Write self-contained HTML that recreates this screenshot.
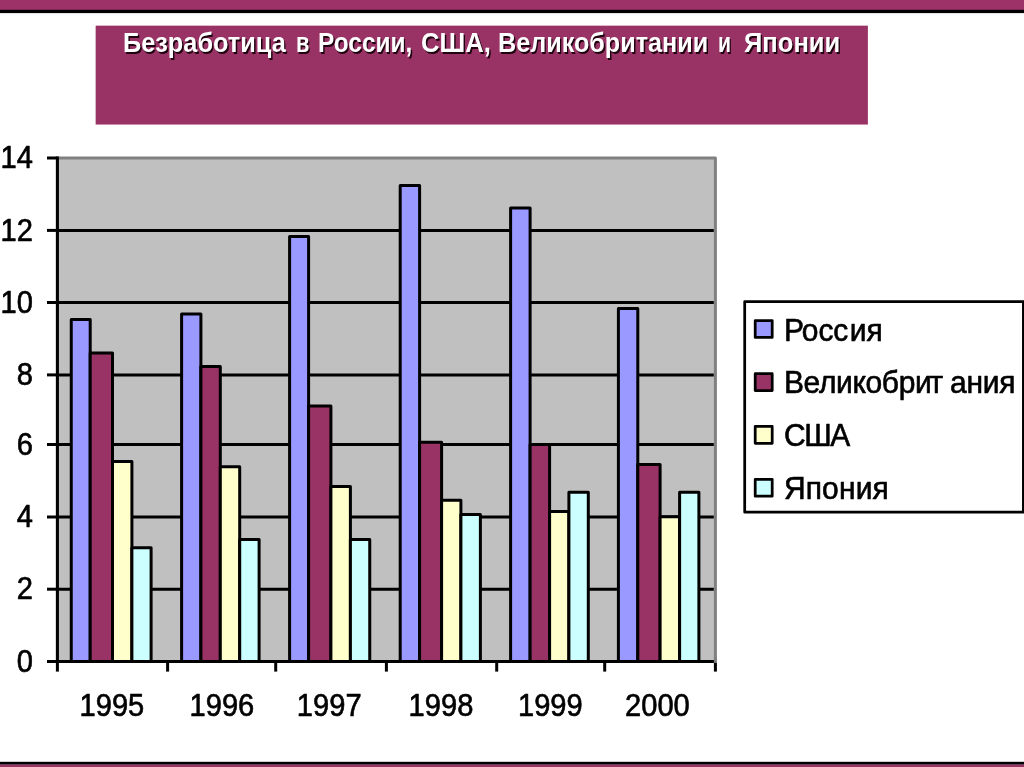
<!DOCTYPE html>
<html lang="ru">
<head>
<meta charset="utf-8">
<title>Безработица в России, США, Великобритании и Японии</title>
<style>
html,body{margin:0;padding:0;background:#fff;}
body{width:1024px;height:767px;position:relative;overflow:hidden;font-family:"Liberation Sans",sans-serif;}
.title{position:absolute;left:95.6px;top:25.6px;width:772.3px;height:98.9px;color:#fff;
 font-weight:bold;font-size:26.5px;margin:0;white-space:nowrap;line-height:normal;
 text-shadow:1.5px 1.5px 0.3px rgba(25,0,12,0.95);}
.title span{position:absolute;top:1.9px;transform-origin:0 0;display:block;}
svg{position:absolute;left:0;top:0;}
.ax{font-family:"Liberation Sans",sans-serif;font-size:29.1px;fill:#000;stroke:#000;stroke-width:0.6px;}
.lg{font-family:"Liberation Sans",sans-serif;font-size:30px;fill:#000;stroke:#000;stroke-width:0.6px;}
</style>
</head>
<body>
<svg stroke-linejoin="round" stroke-linecap="butt" width="1024" height="767" viewBox="0 0 1024 767">
<rect x="0" y="0" width="1024" height="10.2" fill="#9c3268"/>
<rect x="0" y="9.8" width="1024" height="3.3" fill="#000"/>
<rect x="0" y="761.8" width="1024" height="2.9" fill="#000"/>
<rect x="0" y="764.6" width="1024" height="3" fill="#993366"/>
<rect x="95.65" y="25.65" width="772.25" height="98.9" fill="#993366"/>
<rect x="57.4" y="158.0" width="658.0" height="503.4" fill="#c0c0c0" stroke="#808080" stroke-width="3"/>
<line x1="57.4" y1="230.4" x2="713.8" y2="230.4" stroke="#000" stroke-width="3.0"/>
<line x1="57.4" y1="302.5" x2="713.8" y2="302.5" stroke="#000" stroke-width="3.0"/>
<line x1="57.4" y1="374.9" x2="713.8" y2="374.9" stroke="#000" stroke-width="3.0"/>
<line x1="57.4" y1="444.5" x2="713.8" y2="444.5" stroke="#000" stroke-width="3.0"/>
<line x1="57.4" y1="517.0" x2="713.8" y2="517.0" stroke="#000" stroke-width="3.0"/>
<line x1="57.4" y1="589.2" x2="713.8" y2="589.2" stroke="#000" stroke-width="3.0"/>
<rect x="71.25" y="319.5" width="18.95" height="341.90" fill="#9999ff" stroke="#000" stroke-width="3.0"/>
<rect x="90.2" y="353.0" width="22.30" height="308.40" fill="#993366" stroke="#000" stroke-width="3.0"/>
<rect x="112.5" y="461.4" width="19.40" height="200.00" fill="#ffffcc" stroke="#000" stroke-width="3.0"/>
<rect x="131.9" y="547.7" width="19.20" height="113.70" fill="#ccffff" stroke="#000" stroke-width="3.0"/>
<rect x="181.6" y="314.0" width="19.30" height="347.40" fill="#9999ff" stroke="#000" stroke-width="3.0"/>
<rect x="200.9" y="366.5" width="19.40" height="294.90" fill="#993366" stroke="#000" stroke-width="3.0"/>
<rect x="220.3" y="466.7" width="19.40" height="194.70" fill="#ffffcc" stroke="#000" stroke-width="3.0"/>
<rect x="239.7" y="539.4" width="19.40" height="122.00" fill="#ccffff" stroke="#000" stroke-width="3.0"/>
<rect x="289.6" y="236.4" width="19.00" height="425.00" fill="#9999ff" stroke="#000" stroke-width="3.0"/>
<rect x="308.6" y="405.9" width="22.30" height="255.50" fill="#993366" stroke="#000" stroke-width="3.0"/>
<rect x="330.9" y="486.4" width="19.50" height="175.00" fill="#ffffcc" stroke="#000" stroke-width="3.0"/>
<rect x="350.4" y="539.4" width="19.35" height="122.00" fill="#ccffff" stroke="#000" stroke-width="3.0"/>
<rect x="400.2" y="185.6" width="19.40" height="475.80" fill="#9999ff" stroke="#000" stroke-width="3.0"/>
<rect x="419.6" y="442.2" width="22.00" height="219.20" fill="#993366" stroke="#000" stroke-width="3.0"/>
<rect x="441.6" y="500.3" width="19.30" height="161.10" fill="#ffffcc" stroke="#000" stroke-width="3.0"/>
<rect x="460.9" y="514.4" width="19.50" height="147.00" fill="#ccffff" stroke="#000" stroke-width="3.0"/>
<rect x="510.6" y="208.1" width="19.50" height="453.30" fill="#9999ff" stroke="#000" stroke-width="3.0"/>
<rect x="530.1" y="444.4" width="19.50" height="217.00" fill="#993366" stroke="#000" stroke-width="3.0"/>
<rect x="549.6" y="511.6" width="19.30" height="149.80" fill="#ffffcc" stroke="#000" stroke-width="3.0"/>
<rect x="568.9" y="492.2" width="19.40" height="169.20" fill="#ccffff" stroke="#000" stroke-width="3.0"/>
<rect x="618.4" y="308.4" width="19.40" height="353.00" fill="#9999ff" stroke="#000" stroke-width="3.0"/>
<rect x="637.8" y="464.4" width="22.30" height="197.00" fill="#993366" stroke="#000" stroke-width="3.0"/>
<rect x="660.1" y="516.8" width="19.50" height="144.60" fill="#ffffcc" stroke="#000" stroke-width="3.0"/>
<rect x="679.6" y="492.2" width="19.30" height="169.20" fill="#ccffff" stroke="#000" stroke-width="3.0"/>
<line x1="57.4" y1="156.5" x2="57.4" y2="662.8" stroke="#000" stroke-width="3.0"/>
<line x1="47" y1="661.4" x2="714.0" y2="661.4" stroke="#000" stroke-width="3.0"/>
<line x1="715.4" y1="657.4" x2="715.4" y2="662.9" stroke="#808080" stroke-width="3"/>
<line x1="47" y1="158.0" x2="57.4" y2="158.0" stroke="#000" stroke-width="3.0"/>
<line x1="47" y1="230.4" x2="57.4" y2="230.4" stroke="#000" stroke-width="3.0"/>
<line x1="47" y1="302.5" x2="57.4" y2="302.5" stroke="#000" stroke-width="3.0"/>
<line x1="47" y1="374.9" x2="57.4" y2="374.9" stroke="#000" stroke-width="3.0"/>
<line x1="47" y1="444.5" x2="57.4" y2="444.5" stroke="#000" stroke-width="3.0"/>
<line x1="47" y1="517.0" x2="57.4" y2="517.0" stroke="#000" stroke-width="3.0"/>
<line x1="47" y1="589.2" x2="57.4" y2="589.2" stroke="#000" stroke-width="3.0"/>
<line x1="57.4" y1="661.4" x2="57.4" y2="671.6" stroke="#000" stroke-width="3.0"/>
<line x1="167.6" y1="661.4" x2="167.6" y2="671.6" stroke="#000" stroke-width="3.0"/>
<line x1="275.7" y1="661.4" x2="275.7" y2="671.6" stroke="#000" stroke-width="3.0"/>
<line x1="386.4" y1="661.4" x2="386.4" y2="671.6" stroke="#000" stroke-width="3.0"/>
<line x1="496.7" y1="661.4" x2="496.7" y2="671.6" stroke="#000" stroke-width="3.0"/>
<line x1="604.7" y1="661.4" x2="604.7" y2="671.6" stroke="#000" stroke-width="3.0"/>
<line x1="715.4" y1="662.9" x2="715.4" y2="671.6" stroke="#000" stroke-width="3.0"/>
<text class="ax" transform="translate(32.9,168.2) scale(1,1.06)" text-anchor="end">14</text>
<text class="ax" transform="translate(32.9,240.6) scale(1,1.06)" text-anchor="end">12</text>
<text class="ax" transform="translate(32.9,312.7) scale(1,1.06)" text-anchor="end">10</text>
<text class="ax" transform="translate(32.9,385.1) scale(1,1.06)" text-anchor="end">8</text>
<text class="ax" transform="translate(32.9,454.7) scale(1,1.06)" text-anchor="end">6</text>
<text class="ax" transform="translate(32.9,527.2) scale(1,1.06)" text-anchor="end">4</text>
<text class="ax" transform="translate(32.9,599.4) scale(1,1.06)" text-anchor="end">2</text>
<text class="ax" transform="translate(32.9,671.6) scale(1,1.06)" text-anchor="end">0</text>
<text class="ax" transform="translate(111.90,715.9) scale(1,1.06)" text-anchor="middle">1995</text>
<text class="ax" transform="translate(221.90,715.9) scale(1,1.06)" text-anchor="middle">1996</text>
<text class="ax" transform="translate(329.20,715.9) scale(1,1.06)" text-anchor="middle">1997</text>
<text class="ax" transform="translate(440.95,715.9) scale(1,1.06)" text-anchor="middle">1998</text>
<text class="ax" transform="translate(550.35,715.9) scale(1,1.06)" text-anchor="middle">1999</text>
<text class="ax" transform="translate(657.40,715.9) scale(1,1.06)" text-anchor="middle">2000</text>
<rect x="744.7" y="301.5" width="278.7" height="210.7" fill="#fff" stroke="#000" stroke-width="2.75"/>
<rect x="755.2" y="320.5" width="17" height="16.9" fill="#9999ff" stroke="#000" stroke-width="2.75"/>
<text class="lg" transform="translate(783.9,340.7) scale(1,1.035)" style="letter-spacing:0.05px">Р<tspan dx="-2.1" style="letter-spacing:-0.1px">осс</tspan><tspan dx="1.6">ия</tspan></text>
<rect x="755.2" y="373.7" width="17" height="16.9" fill="#993366" stroke="#000" stroke-width="2.75"/>
<text class="lg" transform="translate(783.9,392.9) scale(1,1.035)" style="letter-spacing:0.17px"><tspan style="letter-spacing:-0.35px">Великобри</tspan><tspan dx="-1.8">т</tspan><tspan dx="6.6" style="letter-spacing:-0.3px">ания</tspan></text>
<rect x="755.2" y="426.4" width="17" height="16.9" fill="#ffffcc" stroke="#000" stroke-width="2.75"/>
<text class="lg" transform="translate(783.9,446.0) scale(1,1.035)" style="letter-spacing:-1.4px">США</text>
<rect x="755.2" y="479.3" width="17" height="16.9" fill="#ccffff" stroke="#000" stroke-width="2.75"/>
<text class="lg" transform="translate(783.9,499.2) scale(1,1.035)" style="letter-spacing:0.15px">Япония</text>
</svg>
<h1 class="title"><span style="left:27.30px;transform:scale(0.955,1.04)">Безработица</span> <span style="left:199.95px;transform:scale(0.823,1.04)">в</span> <span style="left:222.26px;transform:scale(0.922,1.04)">России,</span> <span style="left:325.20px;transform:scale(0.967,1.04)">США,</span> <span style="left:402.90px;transform:scale(0.95,1.04)">Великобритании</span> <span style="left:622.10px;transform:scale(0.8,1.04)">и</span> <span style="left:648.00px;transform:scale(0.964,1.04)">Японии</span></h1>
</body>
</html>
